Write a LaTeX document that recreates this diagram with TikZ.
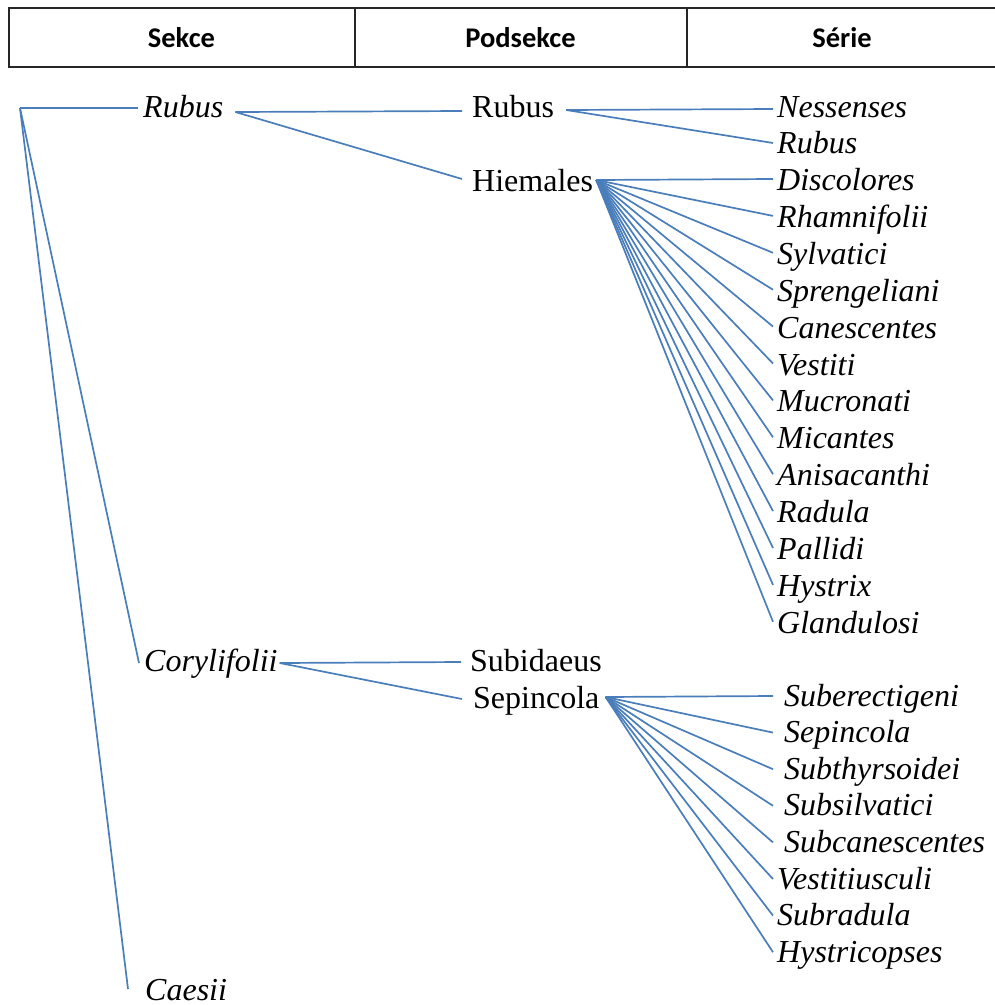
\documentclass[tikz,border=0pt]{standalone}
\usepackage{fontspec}
\setmainfont{Liberation Serif}
\newfontfamily\hdrfont{Carlito}
\definecolor{linkblue}{RGB}{74,126,187}
\begin{document}
\begin{tikzpicture}[x=1pt,y=-1pt,
  link/.style={draw=linkblue,line width=1.7pt},
  hdrline/.style={draw=black!85,line width=1.2pt},
  hdr/.style={font=\hdrfont\bfseries\fontsize{28.5}{30}\selectfont,anchor=base,inner sep=0},
  txt/.style={font=\fontsize{32}{36}\selectfont,anchor=base west,inner sep=0},
  it/.style={txt,font=\fontsize{32}{36}\selectfont\itshape}]
\useasboundingbox (0,0) rectangle (995,1005);
% header table
\draw[hdrline] (995,8) -- (9,8) -- (9,67) -- (995,67);
\draw[hdrline] (355,8) -- (355,67) (687,8) -- (687,67);
\node[hdr] (hd1) at (181.5,47) {Sekce};
\node[hdr] (hd2) at (520.5,47) {Podsekce};
\node[hdr] (hd3) at (842,47) {Série};
% nodes
\coordinate (root) at (20,108);
\coordinate (col) at (773,0);
\node[it] (sRub) at (143,117) {Rubus};
\node[it] (sCor) at (144,671) {Corylifolii};
\node[it] (sCae) at (145,1000) {Caesii};
\node[txt] (pRub) at (472,117) {Rubus};
\node[txt] (pHie) at (472,191) {Hiemales};
\node[txt] (pSub) at (470,671) {Subidaeus};
\node[txt] (pSep) at (473,708) {Sepincola};
\node[it] (rNes) at (777,117) {Nessenses};
\node[it] (rRub) at (777,153) {Rubus};
\foreach \nm [count=\i from 0] in {Discolores,Rhamnifolii,Sylvatici,Sprengeliani,Canescentes,Vestiti,Mucronati,Micantes,Anisacanthi,Radula,Pallidi,Hystrix,Glandulosi}
  {\node[it] (h\i) at (777,{190.5+36.9*\i}) {\nm};}
\foreach \nm/\xx [count=\i from 0] in {Suberectigeni/784,Sepincola/784,Subthyrsoidei/784,Subsilvatici/784,Subcanescentes/784,Vestitiusculi/777,Subradula/777,Hystricopses/777}
  {\node[it] (q\i) at (\xx,{706+36.6*\i}) {\nm};}
% connector points
\coordinate (sRubR) at ([shift={(12,-5)}]sRub.base east);
\coordinate (pRubR) at ([shift={(12,-7)}]pRub.base east);
\coordinate (pHieR) at ([shift={(3,-11)}]pHie.base east);
\coordinate (sCorR) at ([shift={(2,-8)}]sCor.base east);
\coordinate (pSepR) at ([shift={(6,-11)}]pSep.base east);
% connectors
\draw[link] (root) -- ([shift={(-5,-9)}]sRub.base west);
\draw[link] (root) -- ([shift={(-5,-8)}]sCor.base west);
\draw[link] (root) -- ([shift={(-17,-11)}]sCae.base west);
\draw[link] (sRubR) -- ([shift={(-10,-6)}]pRub.base west);
\draw[link] (sRubR) -- ([shift={(-10,-12)}]pHie.base west);
\draw[link] (pRubR) -- ([yshift=8pt]rNes.base west -| col);
\draw[link] (pRubR) -- ([yshift=10pt]rRub.base west -| col);
\foreach \i in {0,...,12}
  {\draw[link] (pHieR) -- ([yshift=11.5pt]h\i.base west -| col);}
\draw[link] (sCorR) -- ([shift={(-9,-9)}]pSub.base west);
\draw[link] (sCorR) -- ([shift={(-11,-9)}]pSep.base west);
\foreach \i in {0,...,7}
  {\draw[link] (pSepR) -- ([yshift=10pt]q\i.base west -| col);}
\end{tikzpicture}
\end{document}
